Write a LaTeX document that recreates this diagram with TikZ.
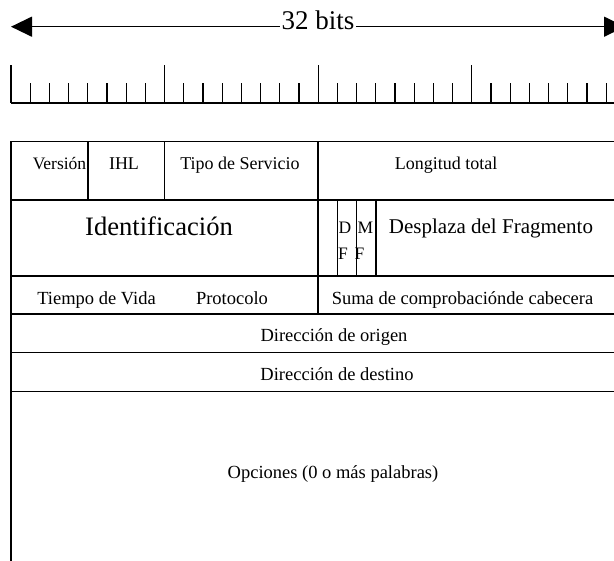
\documentclass[tikz,border=0pt]{standalone}
\usepackage{fontspec}
\setmainfont{Liberation Serif}
\usetikzlibrary{arrows.meta}
\newcommand{\fs}[1]{\fontsize{#1}{#1}\selectfont}
\tikzset{
  tablelinea/.style={line width=1.5pt, line cap=rect},
  reglalinea/.style={line width=1.3pt},
  texto/.style={inner sep=0pt, anchor=base, font=\fs{18}},
  textog/.style={inner sep=0pt, anchor=base, font=\fs{18.5}},
  letra/.style={inner sep=0pt, anchor=base west, font=\fs{17.5}},
}
\begin{document}
\begin{tikzpicture}[x=1pt,y=-1pt]
\useasboundingbox (0,0) rectangle (614,561);
\clip (0,0) rectangle (614,561);
% arrow 32 bits
\coordinate (aL) at (11,26.7);
\coordinate (aR) at (625,26.7);
\draw[line width=1.3pt, {Triangle[length=21pt,width=20pt]}-{Triangle[length=21pt,width=20pt]}] (aL) -- (aR);
\node[inner sep=1.5pt, fill=white, anchor=base, font=\fs{27}] (bits) at (318,29.3) {32 bits};
% ruler
\coordinate (r0) at (11,103);
\coordinate (r1) at (630,103);
\draw[reglalinea] (r0) -- (r1);
\foreach \k in {0,...,32}{
  \pgfmathsetmacro{\xx}{11+19.2*\k}
  \pgfmathtruncatemacro{\m}{mod(\k,8)}
  \ifnum\m=0
    \draw[reglalinea] (\xx,103) -- (\xx,65);
  \else
    \draw[reglalinea] (\xx,103) -- (\xx,83);
  \fi
}
% table horizontal lines
\foreach \yy in {141.7,200,276,314,352.7,391.7}{
  \draw[tablelinea] (11,\yy) -- (625,\yy);
}
% outer verticals
\draw[tablelinea] (11,141.7) -- (11,570);
\draw[tablelinea] (625,141.7) -- (625,570);
% inner verticals
\draw[tablelinea] (87.8,141.7) -- (87.8,200);
\draw[tablelinea] (164.6,141.7) -- (164.6,200);
\draw[tablelinea] (318.2,141.7) -- (318.2,314);
\draw[tablelinea] (337.4,200) -- (337.4,276);
\draw[tablelinea] (356.6,200) -- (356.6,276);
\draw[tablelinea] (375.8,200) -- (375.8,276);
% row 1
\node[texto, font=\fs{17.5}] (ver) at (59.5,169.3) {Versión};
\node[texto] (ihl) at (124,169.3) {IHL};
\node[texto] (tos) at (240,169.3) {Tipo de Servicio};
\node[texto] (lon) at (446,169.3) {Longitud total};
% row 2
\node[texto, font=\fs{26.6}] (ide) at (159,236) {Identificación};
\node[letra] (d1) at (338.5,234) {D};
\node[letra] (f1) at (338,260) {F};
\node[letra] (m2) at (357.5,234) {M};
\node[letra] (f2) at (354.5,260) {F};
\node[texto, font=\fs{21}] (des) at (491,234) {Desplaza del Fragmento};
% row 3
\node[textog] (tie) at (96.5,305) {Tiempo de Vida};
\node[textog] (pro) at (232,305) {Protocolo};
\node[textog] (sum) at (462.5,305) {Suma de comprobaciónde cabecera};
% rows 4-5
\node[textog] (ori) at (334,342) {Dirección de origen};
\node[textog] (dst) at (337,380.7) {Dirección de destino};
% options
\node[textog] (opc) at (333,479) {Opciones (0 o más palabras)};
\end{tikzpicture}
\end{document}
